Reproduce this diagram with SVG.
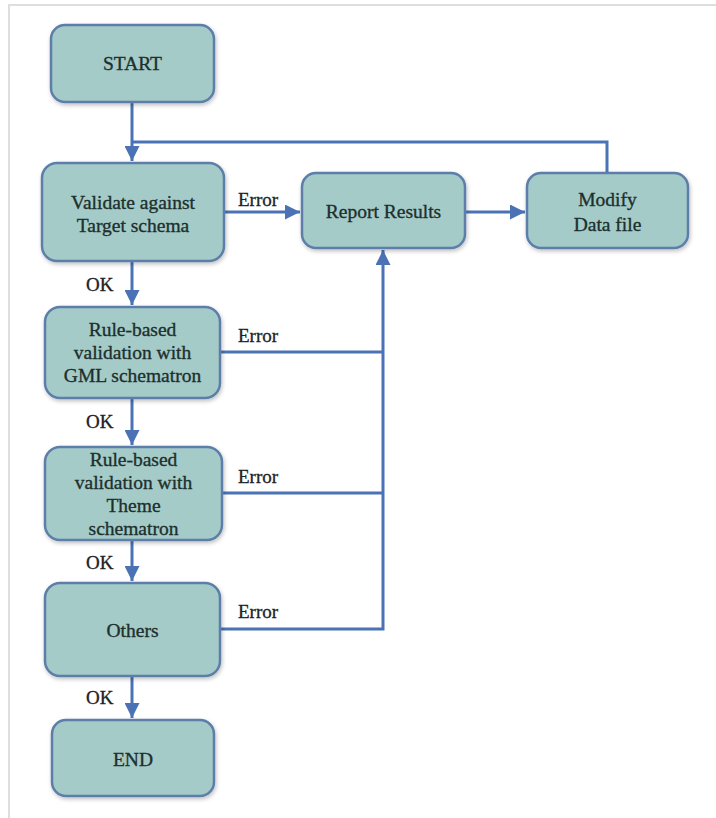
<svg xmlns="http://www.w3.org/2000/svg" width="716" height="818" viewBox="0 0 716 818">
  <defs>
    <marker id="arrow" viewBox="0 0 10 10" refX="10" refY="5" markerWidth="5" markerHeight="5" orient="auto" markerUnits="strokeWidth">
      <path d="M0,0 L10,5 L0,10 Z" fill="#4a72b5"/>
    </marker>
    <filter id="shadow" x="-10%" y="-10%" width="125%" height="130%">
      <feGaussianBlur in="SourceAlpha" stdDeviation="2"/>
      <feOffset dx="1" dy="2" result="b"/>
      <feComponentTransfer><feFuncA type="linear" slope="0.25"/></feComponentTransfer>
      <feMerge><feMergeNode/><feMergeNode in="SourceGraphic"/></feMerge>
    </filter>
  </defs>
  <style>
    .box { fill: #a5cbc8; stroke: #5c7ea8; stroke-width: 2.5; filter: url(#shadow); }
    .lbl { font-size: 19.5px; fill: #1c302e; stroke: #1c302e; stroke-width: 0.35; text-anchor: middle; }
    .edge { font-size: 19px; fill: #222222; stroke: #222222; stroke-width: 0.3; }
    .wire { fill: none; stroke: #4a72b5; stroke-width: 3; }
    .frame { fill: none; stroke: #dedede; stroke-width: 2; }
  </style>

  <rect width="716" height="818" fill="#ffffff"/>
  <path class="frame" d="M9,818 V5 H716"/>

  <g id="connectors" font-family="'Liberation Serif', 'DejaVu Serif', serif">
    <path class="wire" d="M132,102 V161" marker-end="url(#arrow)"/>
    <path class="wire" d="M607,173 V142 H132"/>
    <path class="wire" d="M224,212 H300" marker-end="url(#arrow)"/>
    <path class="wire" d="M465,212 H525" marker-end="url(#arrow)"/>
    <path class="wire" d="M132,261 V305" marker-end="url(#arrow)"/>
    <path class="wire" d="M132,398 V445" marker-end="url(#arrow)"/>
    <path class="wire" d="M132,540 V581" marker-end="url(#arrow)"/>
    <path class="wire" d="M132,676 V718" marker-end="url(#arrow)"/>
    <path class="wire" d="M220,352 H383"/>
    <path class="wire" d="M222,493 H383"/>
    <path class="wire" d="M220,629 H383 V250" marker-end="url(#arrow)"/>
    <text class="edge" x="238" y="206">Error</text>
    <text class="edge" x="238" y="342">Error</text>
    <text class="edge" x="238" y="483">Error</text>
    <text class="edge" x="238" y="618">Error</text>
    <text class="edge" x="86" y="291">OK</text>
    <text class="edge" x="86" y="428">OK</text>
    <text class="edge" x="86" y="569">OK</text>
    <text class="edge" x="86" y="704">OK</text>
  </g>

  <g font-family="'Liberation Serif', 'DejaVu Serif', serif">
    <g id="start">
      <rect class="box" x="51" y="25" width="163" height="77" rx="14"/>
      <text class="lbl" x="132.5" y="70">START</text>
    </g>
    <g id="validate">
      <rect class="box" x="42" y="163" width="182" height="98" rx="15"/>
      <text class="lbl" x="133" y="209">Validate against</text>
      <text class="lbl" x="133" y="232">Target schema</text>
    </g>
    <g id="report">
      <rect class="box" x="302" y="173" width="163" height="75" rx="14"/>
      <text class="lbl" x="383.5" y="218">Report Results</text>
    </g>
    <g id="modify">
      <rect class="box" x="527" y="173" width="161" height="75" rx="14"/>
      <text class="lbl" x="607.5" y="206">Modify</text>
      <text class="lbl" x="607.5" y="231">Data file</text>
    </g>
    <g id="gml">
      <rect class="box" x="45" y="307" width="175" height="91" rx="15"/>
      <text class="lbl" x="132.5" y="336">Rule-based</text>
      <text class="lbl" x="132.5" y="359">validation  with</text>
      <text class="lbl" x="132.5" y="382">GML schematron</text>
    </g>
    <g id="theme">
      <rect class="box" x="45" y="447" width="177" height="93" rx="15"/>
      <text class="lbl" x="133.5" y="466">Rule-based</text>
      <text class="lbl" x="133.5" y="489">validation  with</text>
      <text class="lbl" x="133.5" y="512">Theme</text>
      <text class="lbl" x="133.5" y="535">schematron</text>
    </g>
    <g id="others">
      <rect class="box" x="45" y="583" width="175" height="93" rx="15"/>
      <text class="lbl" x="132.5" y="637">Others</text>
    </g>
    <g id="end">
      <rect class="box" x="52" y="720" width="162" height="76" rx="14"/>
      <text class="lbl" x="133" y="766">END</text>
    </g>
  </g>
</svg>
